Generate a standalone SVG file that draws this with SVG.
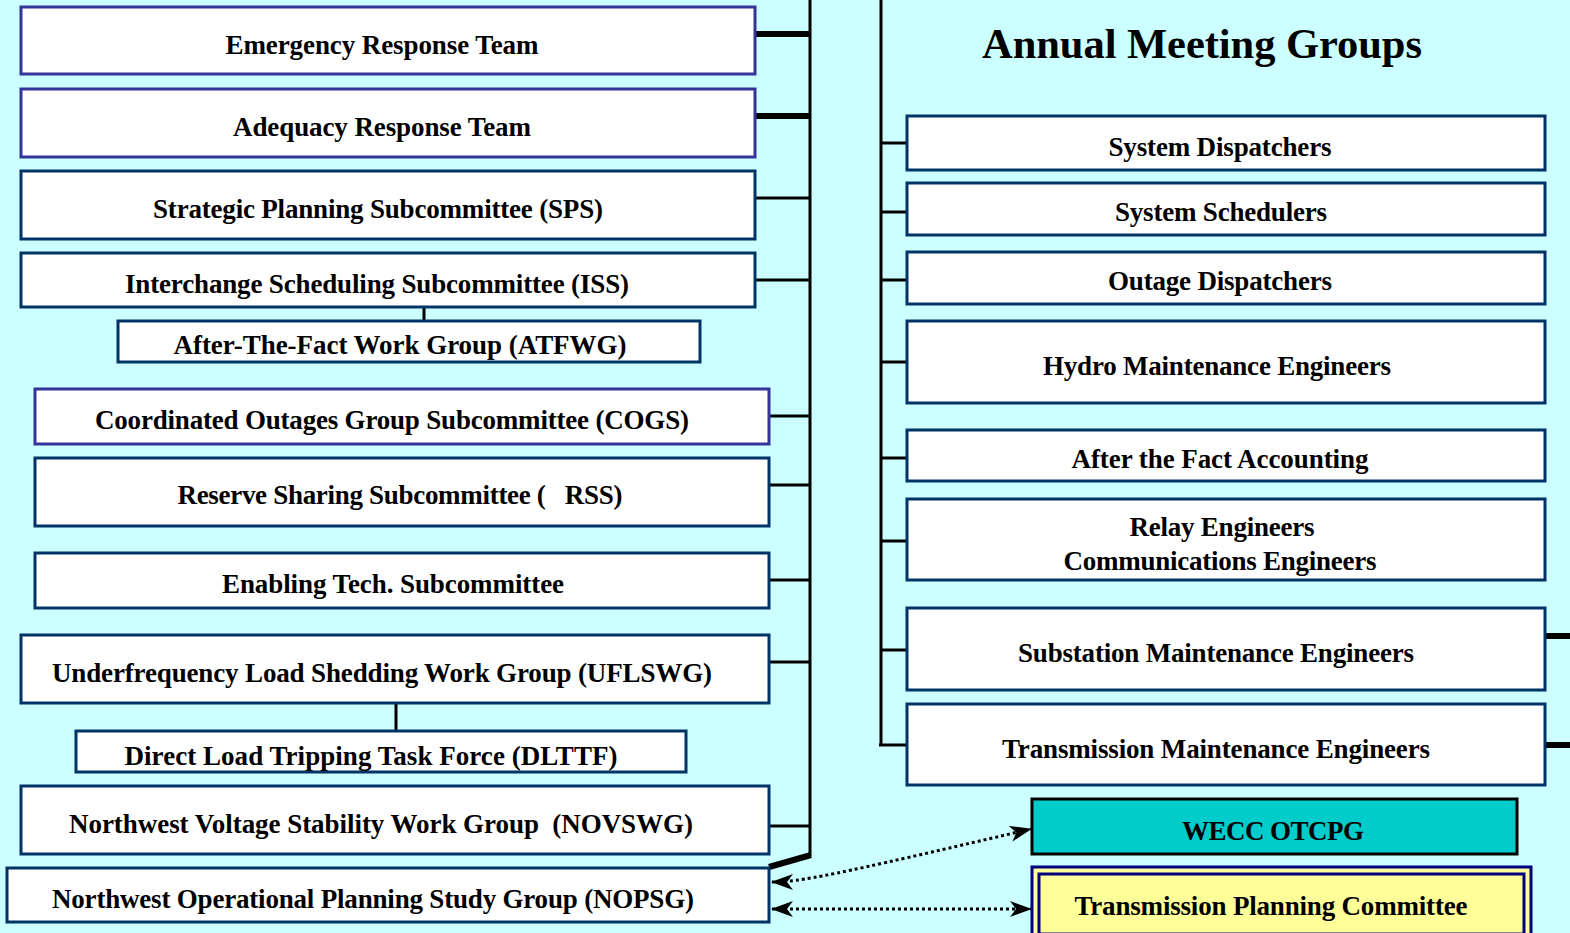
<svg xmlns="http://www.w3.org/2000/svg" width="1570" height="933" viewBox="0 0 1570 933">
<defs>
<style>
.bg{fill:#CCFFFF}
.box{fill:#FFFFFF;stroke:#003366;stroke-width:3}
.boxp{fill:#FFFFFF;stroke:#333399;stroke-width:3}
.t{font-family:"Liberation Serif","Times New Roman",serif;font-weight:bold;font-size:27px;fill:#000;text-anchor:middle;white-space:pre}
.title{font-family:"Liberation Serif","Times New Roman",serif;font-weight:bold;font-size:42.5px;fill:#000;text-anchor:middle}
.ln{stroke:#000;stroke-width:3;fill:none}
.lnb{stroke:#000;stroke-width:6;fill:none}
.dot{stroke:#000;stroke-width:3;stroke-dasharray:3 3;fill:none}
</style>
<marker id="ah" viewBox="0 0 22 16" refX="21" refY="8" markerWidth="22" markerHeight="16" markerUnits="userSpaceOnUse" orient="auto-start-reverse">
<path d="M0,0 L22,8 L0,16 L6,8 Z" fill="#000"/>
</marker>
</defs>
<rect class="bg" x="0" y="0" width="1570" height="933"/>

<g id="connectors">
<line class="ln" x1="810" y1="0" x2="810" y2="856"/>
<line class="lnb" x1="811" y1="855" x2="769" y2="867"/>
<line class="lnb" x1="755" y1="34" x2="810" y2="34"/>
<line class="lnb" x1="755" y1="116" x2="810" y2="116"/>
<line class="ln" x1="755" y1="198" x2="810" y2="198"/>
<line class="ln" x1="755" y1="280" x2="810" y2="280"/>
<line class="ln" x1="424" y1="307" x2="424" y2="321"/>
<line class="ln" x1="769" y1="416" x2="810" y2="416"/>
<line class="ln" x1="769" y1="485" x2="810" y2="485"/>
<line class="ln" x1="769" y1="580" x2="810" y2="580"/>
<line class="ln" x1="769" y1="662" x2="810" y2="662"/>
<line class="ln" x1="396" y1="703" x2="396" y2="731"/>
<line class="ln" x1="769" y1="826" x2="810" y2="826"/>
<line class="ln" x1="881" y1="0" x2="881" y2="745"/>
<line class="ln" x1="881" y1="143" x2="907" y2="143"/>
<line class="ln" x1="881" y1="212" x2="907" y2="212"/>
<line class="ln" x1="881" y1="280" x2="907" y2="280"/>
<line class="ln" x1="881" y1="362" x2="907" y2="362"/>
<line class="ln" x1="881" y1="458" x2="907" y2="458"/>
<line class="ln" x1="881" y1="541" x2="907" y2="541"/>
<line class="ln" x1="881" y1="650" x2="907" y2="650"/>
<line class="ln" x1="879" y1="745" x2="907" y2="745"/>
<line class="lnb" x1="1545" y1="636" x2="1570" y2="636"/>
<line class="lnb" x1="1545" y1="745" x2="1570" y2="745"/>
<path class="dot" d="M772,882 C800,882 830,876 1031,829" marker-start="url(#ah)" marker-end="url(#ah)"/>
<line class="dot" x1="772" y1="909" x2="1031" y2="909" marker-start="url(#ah)" marker-end="url(#ah)"/>
</g>

<g id="n-emergency"><rect class="boxp" x="21" y="7" width="734" height="67"/><text class="t" x="382" y="54" textLength="313">Emergency Response Team</text></g>
<g id="n-adequacy"><rect class="boxp" x="21" y="89" width="734" height="68"/><text class="t" x="382" y="136" textLength="298">Adequacy Response Team</text></g>
<g id="n-sps"><rect class="box" x="21" y="171" width="734" height="68"/><text class="t" x="378" y="218" textLength="450">Strategic Planning Subcommittee (SPS)</text></g>
<g id="n-iss"><rect class="box" x="21" y="253" width="734" height="54"/><text class="t" x="377" y="293" textLength="504">Interchange Scheduling Subcommittee (ISS)</text></g>
<g id="n-atfwg"><rect class="box" x="118" y="321" width="582" height="41"/><text class="t" x="400" y="354" textLength="453">After-The-Fact Work Group (ATFWG)</text></g>
<g id="n-cogs"><rect class="boxp" x="35" y="389" width="734" height="55"/><text class="t" x="392" y="429" textLength="594">Coordinated Outages Group Subcommittee (COGS)</text></g>
<g id="n-rss"><rect class="box" x="35" y="458" width="734" height="68"/><text class="t" x="400" y="504" textLength="445">Reserve Sharing Subcommittee (   RSS)</text></g>
<g id="n-enabling"><rect class="box" x="35" y="553" width="734" height="55"/><text class="t" x="393" y="593" textLength="342">Enabling Tech. Subcommittee</text></g>
<g id="n-uflswg"><rect class="box" x="21" y="635" width="748" height="68"/><text class="t" x="382" y="682" textLength="660">Underfrequency Load Shedding Work Group (UFLSWG)</text></g>
<g id="n-dlttf"><rect class="box" x="76" y="731" width="610" height="41"/><text class="t" x="371" y="765" textLength="493">Direct Load Tripping Task Force (DLTTF)</text></g>
<g id="n-novswg"><rect class="box" x="21" y="786" width="748" height="68"/><text class="t" x="381" y="833" textLength="624">Northwest Voltage Stability Work Group  (NOVSWG)</text></g>
<g id="n-nopsg"><rect class="box" x="7" y="868" width="762" height="54"/><text class="t" x="373" y="908" textLength="642">Northwest Operational Planning Study Group (NOPSG)</text></g>

<g id="n-title"><text class="title" x="1202" y="58" textLength="440">Annual Meeting Groups</text></g>
<g id="n-sysdisp"><rect class="box" x="907" y="116" width="638" height="54"/><text class="t" x="1220" y="156" textLength="223">System Dispatchers</text></g>
<g id="n-syssched"><rect class="box" x="907" y="183" width="638" height="52"/><text class="t" x="1221" y="221" textLength="212">System Schedulers</text></g>
<g id="n-outage"><rect class="box" x="907" y="252" width="638" height="52"/><text class="t" x="1220" y="290" textLength="224">Outage Dispatchers</text></g>
<g id="n-hydro"><rect class="box" x="907" y="321" width="638" height="82"/><text class="t" x="1217" y="375" textLength="348">Hydro Maintenance Engineers</text></g>
<g id="n-afa"><rect class="box" x="907" y="430" width="638" height="51"/><text class="t" x="1220" y="468" textLength="297">After the Fact Accounting</text></g>
<g id="n-relay"><rect class="box" x="907" y="499" width="638" height="81"/><text class="t" x="1222" y="536" textLength="185">Relay Engineers</text><text class="t" x="1220" y="570" textLength="313">Communications Engineers</text></g>
<g id="n-substation"><rect class="box" x="907" y="608" width="638" height="82"/><text class="t" x="1216" y="662" textLength="396">Substation Maintenance Engineers</text></g>
<g id="n-transmission"><rect class="box" x="907" y="704" width="638" height="81"/><text class="t" x="1216" y="758" textLength="428">Transmission Maintenance Engineers</text></g>
<g id="n-wecc"><rect x="1032" y="799" width="485" height="55" fill="#00CCCC" stroke="#000" stroke-width="3"/><text class="t" x="1273" y="840" textLength="182">WECC OTCPG</text></g>
<g id="n-tpc"><rect x="1032" y="867" width="499" height="70" fill="#FFFF99" stroke="#000080" stroke-width="3"/><rect x="1039" y="874" width="485" height="60" fill="none" stroke="#000080" stroke-width="3"/><text class="t" x="1271" y="915" textLength="393">Transmission Planning Committee</text></g>
</svg>
